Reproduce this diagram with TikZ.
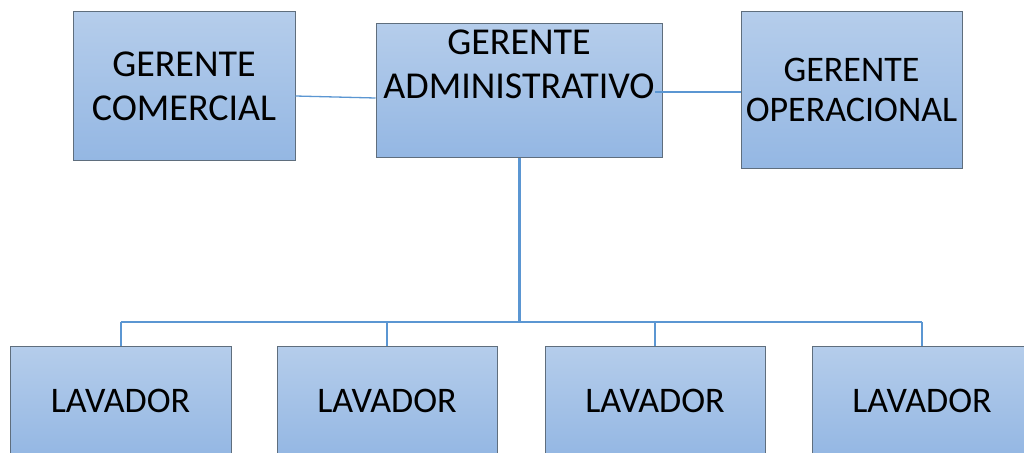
\documentclass[tikz,border=0pt]{standalone}
\usepackage{fontspec}
\setmainfont{Carlito}
\definecolor{boxtop}{RGB}{181,205,235}
\definecolor{boxbot}{RGB}{148,183,227}
\definecolor{boxline}{RGB}{95,110,125}
\definecolor{wire}{RGB}{91,150,210}
\begin{document}
\begin{tikzpicture}[x=1pt,y=-1pt,
  orgtext/.style={align=center,font=\fontsize{38}{44}\selectfont},
  orgbox/.style={draw=boxline,line width=1pt,top color=boxtop,bottom color=boxbot,
    inner sep=0pt,orgtext},
  thinwire/.style={draw=wire,line width=1.3pt},
  trunk/.style={draw=wire,line width=3pt},
  bus/.style={draw=wire,line width=2.5pt}]
\useasboundingbox (0,0) rectangle (1024,452);
% managers
\node[orgbox,minimum width=222pt,minimum height=148pt] (com) at (184,86) {GERENTE\\COMERCIAL};
\node[orgbox,minimum width=286pt,minimum height=133pt] (adm) at (519,90.5) {};
\node[orgtext,anchor=north,inner sep=0pt] (admtxt) at (519,30) {GERENTE\\ADMINISTRATIVO};
\node[orgbox,minimum width=221pt,minimum height=156pt,font=\fontsize{36}{40}\selectfont] (ope) at (851.5,90) {GERENTE\\OPERACIONAL};
% washers
\tikzset{lavbox/.style={orgbox,minimum width=220pt,minimum height=110pt,font=\fontsize{36}{44}\selectfont}}
\node[lavbox,minimum width=221pt] (l1) at (120.5,401) {LAVADOR};
\node[lavbox] (l2) at (387,401) {LAVADOR};
\node[lavbox] (l3) at (655,401) {LAVADOR};
\node[lavbox] (l4) at (922,401) {LAVADOR};
% connectors
\coordinate (admO) at (655,92);
\draw[thinwire] (com.east |- 0,96) -- (adm.west |- 0,98);
\draw[thinwire] (admO) -- (ope.west |- admO);
\coordinate (hub) at (519,322);
\draw[trunk] (adm.south) -- (hub);
\draw[bus] (l1.north |- hub) -- (l4.north |- hub);
\foreach \n in {l1,l2,l3,l4} \draw[bus,line width=2pt] (\n.north |- hub) -- (\n.north);
\end{tikzpicture}
\end{document}
